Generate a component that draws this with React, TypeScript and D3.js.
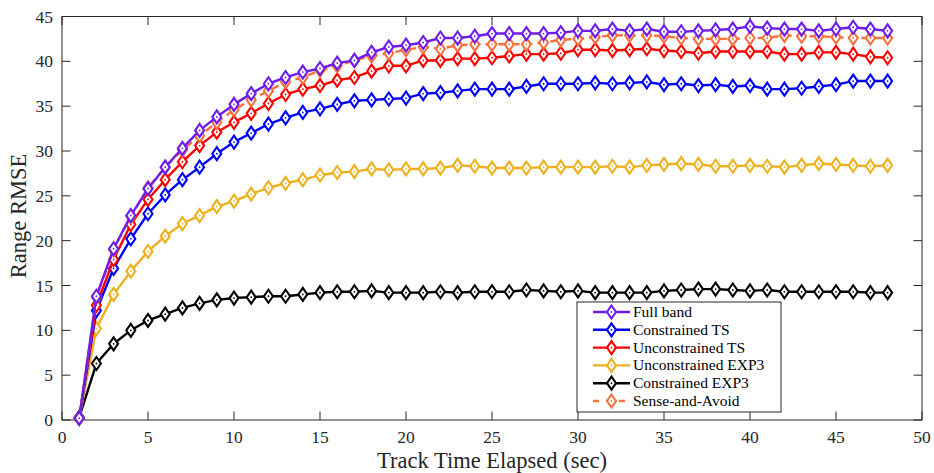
import React from "react";
import * as d3 from "d3";

// track time (sec)
const times = d3.range(1, 49);

const fullBand = [0.2, 13.8, 19.1, 22.8, 25.8, 28.2, 30.3, 32.3, 33.8, 35.2, 36.4, 37.5, 38.2, 38.8, 39.2, 39.8, 40.1, 41.0, 41.6, 41.8, 42.1, 42.6, 42.6, 42.8, 43.1, 43.1, 43.1, 43.1, 43.2, 43.4, 43.4, 43.6, 43.4, 43.6, 43.3, 43.3, 43.4, 43.5, 43.6, 43.9, 43.7, 43.6, 43.6, 43.4, 43.6, 43.8, 43.6, 43.4];
const constrainedTS = [0.2, 12.2, 16.9, 20.2, 23.0, 25.1, 26.8, 28.2, 29.7, 31.0, 32.0, 33.0, 33.7, 34.3, 34.7, 35.2, 35.6, 35.7, 35.8, 35.9, 36.4, 36.5, 36.7, 36.9, 36.9, 36.9, 37.2, 37.5, 37.5, 37.5, 37.6, 37.5, 37.6, 37.7, 37.4, 37.5, 37.3, 37.4, 37.2, 37.3, 36.9, 36.9, 37.0, 37.2, 37.4, 37.8, 37.8, 37.8];
const unconstrainedTS = [0.2, 12.8, 17.9, 21.8, 24.6, 26.8, 28.8, 30.6, 32.1, 33.2, 34.2, 35.3, 36.3, 36.9, 37.3, 37.9, 38.2, 38.9, 39.5, 39.5, 40.1, 40.1, 40.3, 40.3, 40.4, 40.6, 40.8, 40.8, 40.9, 41.3, 41.3, 41.2, 41.3, 41.4, 41.2, 41.1, 40.9, 41.1, 41.1, 41.1, 41.1, 40.8, 40.8, 41.0, 41.0, 40.8, 40.5, 40.4];
const unconstrainedEXP3 = [0.2, 10.2, 14.0, 16.6, 18.8, 20.5, 21.9, 22.8, 23.8, 24.4, 25.2, 25.9, 26.4, 26.8, 27.3, 27.6, 27.7, 28.0, 27.9, 28.0, 28.0, 28.1, 28.4, 28.3, 28.1, 28.1, 28.1, 28.2, 28.2, 28.2, 28.2, 28.3, 28.2, 28.4, 28.5, 28.6, 28.5, 28.3, 28.3, 28.4, 28.3, 28.2, 28.4, 28.6, 28.5, 28.4, 28.3, 28.4];
const constrainedEXP3 = [0.3, 6.3, 8.5, 10.0, 11.1, 11.8, 12.5, 13.0, 13.4, 13.6, 13.7, 13.8, 13.8, 14.0, 14.2, 14.3, 14.3, 14.4, 14.2, 14.2, 14.2, 14.3, 14.2, 14.3, 14.3, 14.3, 14.5, 14.4, 14.3, 14.4, 14.2, 14.2, 14.2, 14.2, 14.4, 14.5, 14.6, 14.6, 14.5, 14.4, 14.5, 14.3, 14.3, 14.3, 14.3, 14.3, 14.2, 14.2];
const senseAndAvoid = [0.2, 13.7, 19.0, 22.7, 25.9, 28.2, 30.1, 31.7, 33.2, 34.6, 35.7, 36.7, 37.7, 38.2, 39.0, 39.5, 40.1, 40.6, 40.9, 41.3, 41.6, 41.4, 41.8, 41.9, 41.9, 41.9, 41.9, 42.1, 42.4, 42.5, 42.7, 42.9, 42.9, 42.9, 42.8, 42.6, 42.5, 42.5, 42.5, 42.6, 42.6, 42.9, 42.8, 42.8, 42.7, 42.6, 42.6, 42.6];

const seriesNames = ["Full band", "Constrained TS", "Unconstrained TS", "Unconstrained EXP3", "Constrained EXP3", "Sense-and-Avoid"];
const seriesValues = [fullBand, constrainedTS, unconstrainedTS, unconstrainedEXP3, constrainedEXP3, senseAndAvoid];
const seriesColors = ["#6d1cf0", "#0000ff", "#ff0000", "#edb120", "#000000", "#f8703b"];
const seriesDashed = [false, false, false, false, false, true];

const xTicks = d3.range(0, 51, 5);
const yTicks = d3.range(0, 46, 5);

const FONT = "'Liberation Serif', 'DejaVu Serif', serif";

const Diamond = ({ cx, cy, color }: { cx: number; cy: number; color: string }) => (
  <g>
    <path
      d={`M${cx},${cy - 6.5}L${cx + 4.5},${cy}L${cx},${cy + 6.5}L${cx - 4.5},${cy}Z`}
      fill="white"
      stroke={color}
      strokeWidth={2.1}
    />
    <circle cx={cx} cy={cy} r={0.9} fill={color} />
  </g>
);

const App = () => {
  const x = d3.scaleLinear().domain([0, 50]).range([62, 922]);
  const y = d3.scaleLinear().domain([0, 45]).range([420, 16.5]);
  const line = d3.line<number>()
    .x((d, i) => x(times[i]))
    .y((d) => y(d));

  // draw order: bottom series first so Full band sits on top like matlab
  const order = [4, 3, 1, 2, 5, 0];

  const legendX = 577;
  const legendY = 302;
  const rowH = 17.8;

  return (
    <svg width={934} height={473} style={{ position: "absolute", left: 0, top: 0, background: "white" }}>
      <rect x={0} y={0} width={934} height={473} fill="white" />

      {/* box + ticks */}
      <g stroke="#262626" strokeWidth={1} fill="none">
        <rect x={x(0)} y={y(45)} width={x(50) - x(0)} height={y(0) - y(45)} />
        {xTicks.map((t) => (
          <g key={"xt" + t}>
            <line x1={x(t)} x2={x(t)} y1={y(0)} y2={y(0) - 8.5} />
            <line x1={x(t)} x2={x(t)} y1={y(45)} y2={y(45) + 8.5} />
          </g>
        ))}
        {yTicks.map((t) => (
          <g key={"yt" + t}>
            <line x1={x(0)} x2={x(0) + 8.5} y1={y(t)} y2={y(t)} />
            <line x1={x(50)} x2={x(50) - 8.5} y1={y(t)} y2={y(t)} />
          </g>
        ))}
      </g>

      <g fontFamily={FONT} fontSize={17.5} fill="#262626">
        {xTicks.map((t) => (
          <text key={"xl" + t} x={x(t)} y={443} textAnchor="middle">{t}</text>
        ))}
        {yTicks.map((t) => (
          <text key={"yl" + t} x={53} y={y(t) + 6} textAnchor="end">{t}</text>
        ))}
        <text x={492} y={468} textAnchor="middle" fontSize={22.5}>Track Time Elapsed (sec)</text>
        <text transform={`translate(26,216) rotate(-90)`} textAnchor="middle" fontSize={22.5}>Range RMSE</text>
      </g>

      {/* series */}
      {order.map((k) => (
        <g key={"s" + k}>
          <path
            d={line(seriesValues[k]) || ""}
            fill="none"
            stroke={seriesColors[k]}
            strokeWidth={2.4}
            strokeDasharray={seriesDashed[k] ? "8 5" : undefined}
            strokeLinejoin="round"
          />
          {seriesValues[k].map((v, i) => (
            <Diamond key={i} cx={x(times[i])} cy={y(v)} color={seriesColors[k]} />
          ))}
        </g>
      ))}

      {/* legend */}
      <g>
        <rect x={legendX} y={legendY} width={204} height={110} fill="white" stroke="#262626" strokeWidth={1} />
        {seriesNames.map((name, i) => {
          const ly = legendY + 10 + i * rowH;
          return (
            <g key={"lg" + i}>
              <line
                x1={593} x2={630} y1={ly} y2={ly}
                stroke={seriesColors[i]}
                strokeWidth={2.4}
                strokeDasharray={seriesDashed[i] ? "6 7" : undefined}
              />
              <Diamond cx={611.5} cy={ly} color={seriesColors[i]} />
              <text x={633} y={ly + 5} fontFamily={FONT} fontSize={15.5} fill="#000">{name}</text>
            </g>
          );
        })}
      </g>
    </svg>
  );
};

export default App;
